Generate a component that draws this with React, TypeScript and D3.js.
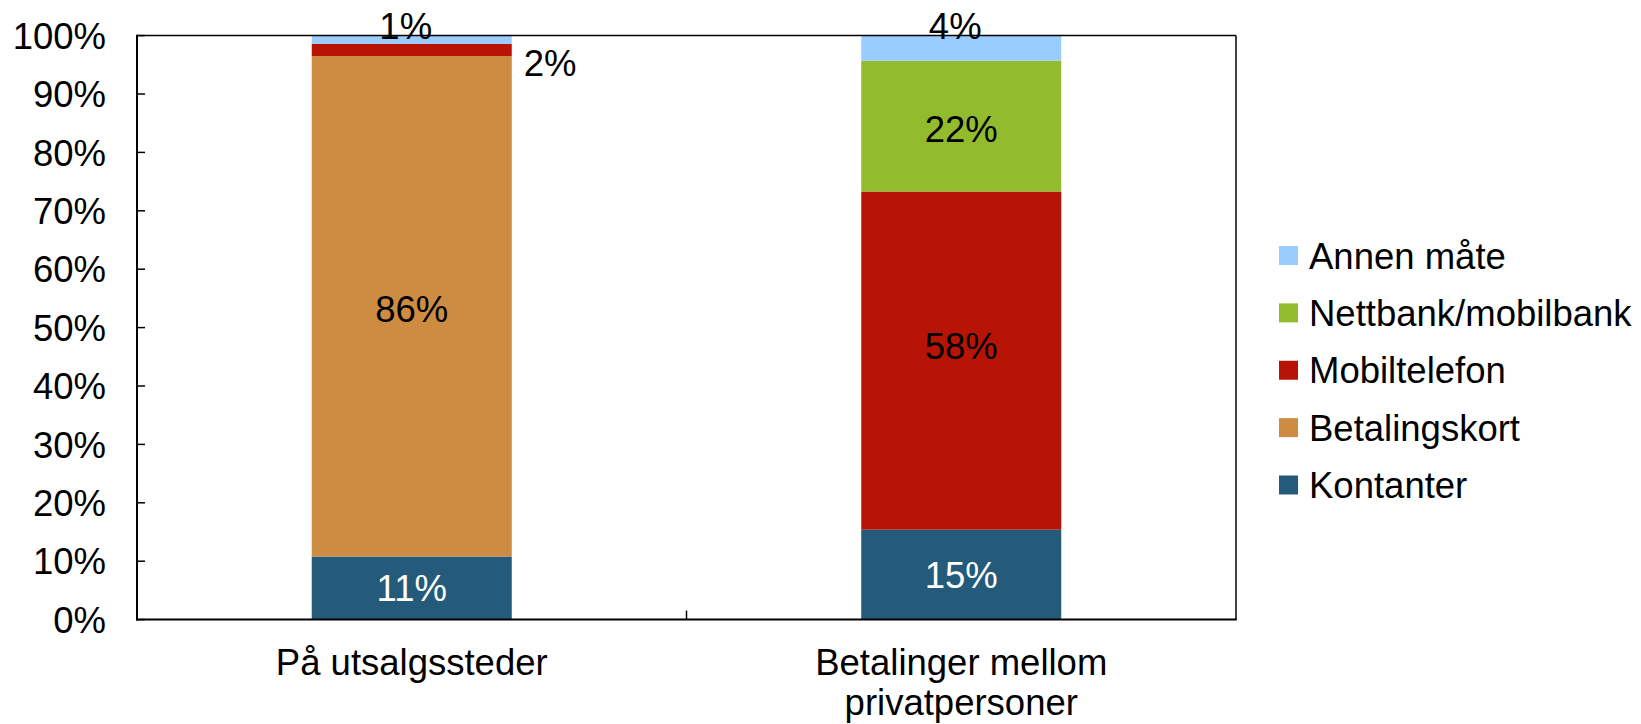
import React from "react";
import * as d3 from "d3";

const categories: string[][] = [["På utsalgssteder"], ["Betalinger mellom", "privatpersoner"]];
const categoryKeys = ["På utsalgssteder", "Betalinger mellom privatpersoner"];
const seriesNames = ["Kontanter", "Betalingskort", "Mobiltelefon", "Nettbank/mobilbank", "Annen måte"];
const seriesColors = ["#245A7A", "#CE8C42", "#B81405", "#92BC2D", "#99CCFF"];
const kontanter = [10.8, 15.4];
const betalingskort = [85.7, 0];
const mobiltelefon = [2.1, 57.9];
const nettbank = [0, 22.4];
const annen = [1.4, 4.3];
const labelText = [
  ["11%", "15%"],
  ["86%", ""],
  ["2%", "58%"],
  ["", "22%"],
  ["1%", "4%"],
];
const yTicks = [0, 10, 20, 30, 40, 50, 60, 70, 80, 90, 100];

const W = 1641;
const H = 724;
const L = 137, R = 1236, T = 35.6, B = 619.6;
const FONT = "'Liberation Sans', Arial, sans-serif";
const FS = 36.5;

export default function App() {
  const series = [kontanter, betalingskort, mobiltelefon, nettbank, annen];
  const x = d3.scaleBand<string>().domain(categoryKeys).range([L, R]).paddingInner(0.636).paddingOuter(0.318);
  const y = d3.scaleLinear().domain([0, 100]).range([B, T]);
  const rows = categoryKeys.map((c, i) => {
    const o: any = { cat: c };
    seriesNames.forEach((s, j) => (o[s] = series[j][i]));
    return o;
  });
  const stacked = d3.stack<any>().keys(seriesNames)(rows);
  const bw = x.bandwidth();

  const legendItems = [...seriesNames].map((n, i) => ({ n, c: seriesColors[i] })).reverse();
  const legendY = d3.scalePoint<string>().domain(legendItems.map((d) => d.n)).range([255.5, 485]);

  // small manual nudges of inside labels, as in the original
  const nudge = (si: number, ci: number) => {
    if (si === 2 && ci === 1) return -15;
    if (si === 1 && ci === 0) return 3;
    if (si === 3 && ci === 1) return 3;
    return 0;
  };

  return (
    <svg width={W} height={H} style={{ position: "absolute", left: 0, top: 0, background: "#fff" }}>
      {stacked.map((layer, si) =>
        layer.map((d, ci) => {
          const x0 = x(categoryKeys[ci])!;
          const y0 = y(d[1]);
          const h = y(d[0]) - y(d[1]);
          if (h <= 0) return null;
          return <rect key={`r${si}-${ci}`} x={x0} y={y0} width={bw} height={h} fill={seriesColors[si]} />;
        })
      )}
      <line x1={L} x2={R} y1={T} y2={T} stroke="#000" strokeWidth={1.5} />
      <line x1={R} x2={R} y1={T} y2={B} stroke="#000" strokeWidth={1.5} />
      <line x1={L} x2={L} y1={T - 0.75} y2={B + 1} stroke="#000" strokeWidth={2} />
      <line x1={L - 1} x2={R + 0.75} y1={B} y2={B} stroke="#000" strokeWidth={2} />
      {yTicks.map((t) => (
        <g key={`t${t}`}>
          <line x1={L} x2={L + 8} y1={y(t)} y2={y(t)} stroke="#000" strokeWidth={1.5} />
          <text x={106} y={y(t)} dy="0.36em" textAnchor="end" fontFamily={FONT} fontSize={FS} fill="#000">
            {t}%
          </text>
        </g>
      ))}
      <line x1={(L + R) / 2} x2={(L + R) / 2} y1={B} y2={B - 9} stroke="#000" strokeWidth={1.5} />
      {categories.map((lines, ci) => {
        const cx = x(categoryKeys[ci])! + bw / 2;
        return (
          <text key={`c${ci}`} x={cx} y={675} textAnchor="middle" fontFamily={FONT} fontSize={FS} fill="#000">
            {lines.map((l, li) => (
              <tspan key={li} x={cx} dy={li === 0 ? 0 : 40}>
                {l}
              </tspan>
            ))}
          </text>
        );
      })}
      {stacked.map((layer, si) =>
        layer.map((d, ci) => {
          const txt = labelText[si][ci];
          if (!txt) return null;
          const cx = x(categoryKeys[ci])! + bw / 2;
          let lx = cx;
          let ly = (y(d[0]) + y(d[1])) / 2 + nudge(si, ci);
          let anchor: "middle" | "start" = "middle";
          if (seriesNames[si] === "Annen måte") {
            lx = cx - 6;
            ly = y(100) - 10;
          } else if (d[1] - d[0] < 5) {
            lx = x(categoryKeys[ci])! + bw + 12;
            ly = y(d[0]) + 7;
            anchor = "start";
          }
          const fill = seriesNames[si] === "Kontanter" ? "#fff" : "#000";
          return (
            <text key={`l${si}-${ci}`} x={lx} y={ly} dy="0.36em" textAnchor={anchor} fontFamily={FONT} fontSize={FS} fill={fill}>
              {txt}
            </text>
          );
        })
      )}
      {legendItems.map((it) => (
        <g key={it.n}>
          <rect x={1279} y={legendY(it.n)! - 9.5} width={19} height={19} fill={it.c} />
          <text x={1309} y={legendY(it.n)!} dy="0.36em" fontFamily={FONT} fontSize={FS} fill="#000">
            {it.n}
          </text>
        </g>
      ))}
    </svg>
  );
}
